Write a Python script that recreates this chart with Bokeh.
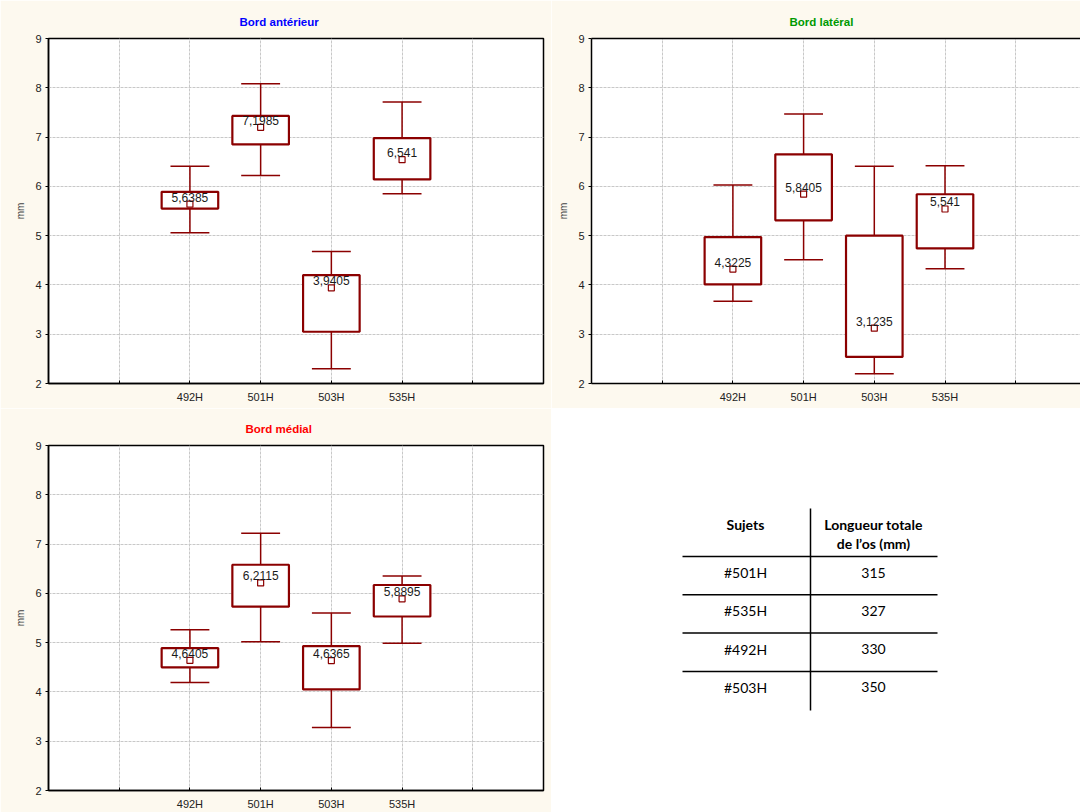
from bokeh.plotting import figure
from bokeh.models import ColumnDataSource, FixedTicker, Range1d, LinearAxis
from bokeh.layouts import column, row
from bokeh.transform import dodge
from bokeh.embed import file_html
from bokeh.resources import INLINE
from bokeh.core.properties import value

# ---------------- data ----------------
categories = ["492H", "501H", "503H", "535H"]

ant_mean = [5.6385, 7.1985, 3.9405, 6.541]
ant_box_hi = [5.89, 7.43, 4.20, 6.98]
ant_box_lo = [5.55, 6.85, 3.05, 6.14]
ant_wh_hi = [6.41, 8.08, 4.68, 7.71]
ant_wh_lo = [5.06, 6.22, 2.30, 5.85]

lat_mean = [4.3225, 5.8405, 3.1235, 5.541]
lat_box_hi = [4.97, 6.65, 5.00, 5.84]
lat_box_lo = [4.01, 5.31, 2.54, 4.74]
lat_wh_hi = [6.03, 7.47, 6.41, 6.42]
lat_wh_lo = [3.67, 4.51, 2.20, 4.33]

med_mean = [4.6405, 6.2115, 4.6365, 5.8895]
med_box_hi = [4.89, 6.58, 4.93, 6.17]
med_box_lo = [4.50, 5.73, 4.05, 5.53]
med_wh_hi = [5.26, 7.22, 5.60, 6.35]
med_wh_lo = [4.19, 5.02, 3.28, 4.99]

y_ticks = [2, 3, 4, 5, 6, 7, 8, 9]

table_header_left = "Sujets"
table_header_right = ["Longueur totale", "de l\u2019os (mm)"]
table_subjects = ["#501H", "#535H", "#492H", "#503H"]
table_lengths = ["315", "327", "330", "350"]

# ---------------- style ----------------
CREAM = "#FDF9EF"
DARKRED = "#8B0000"
GRID = "#c8c8c8"
FONT = "Liberation Sans"


def make_panel(title, tcolor, mean, bhi, blo, whi, wlo, x_end, border_left,
               border_right, border_top, border_bottom, frame_w, frame_h,
               title_offset, clipped=False):
    p = figure(frame_width=frame_w, frame_height=frame_h,
               x_range=Range1d(0, x_end), y_range=Range1d(2, 9),
               output_backend="svg", toolbar_location=None,
               min_border_left=border_left, min_border_right=border_right,
               min_border_top=border_top, min_border_bottom=border_bottom)
    p.border_fill_color = CREAM
    p.background_fill_color = "white"
    p.title.text = title
    p.title.text_color = tcolor
    p.title.text_font = FONT
    p.title.text_font_size = "11.5px"
    p.title.text_font_style = "bold"
    p.title.align = "left"
    p.title.offset = title_offset
    p.title.standoff = 21

    xs = [i + 2 for i in range(len(categories))]
    src = ColumnDataSource(dict(
        x=xs, mean=mean, bhi=bhi, blo=blo, whi=whi, wlo=wlo,
        label=[str(v).replace(".", ",") for v in mean]))

    p.segment(x0="x", y0="wlo", x1="x", y1="whi", source=src,
              line_color=DARKRED, line_width=1.5)
    p.vbar(x="x", top="bhi", bottom="blo", width=0.8, source=src,
           fill_color="white", line_color=DARKRED, line_width=2.2)
    p.segment(x0=dodge("x", -0.275), y0="whi", x1=dodge("x", 0.275), y1="whi",
              source=src, line_color=DARKRED, line_width=1.5)
    p.segment(x0=dodge("x", -0.275), y0="wlo", x1=dodge("x", 0.275), y1="wlo",
              source=src, line_color=DARKRED, line_width=1.5)
    p.scatter(x="x", y="mean", marker="square", size=6, source=src,
              fill_color="white", line_color=DARKRED, line_width=1.2)
    p.text(x="x", y="mean", text="label", source=src, text_align="center",
           text_baseline="alphabetic", y_offset=-7, text_font=value(FONT),
           text_font_size="12px", text_color="#1a1a1a")

    # grid
    p.xgrid.ticker = FixedTicker(ticks=[1, 2, 3, 4, 5, 6])
    p.ygrid.ticker = FixedTicker(ticks=y_ticks)
    for g in (p.xgrid[0], p.ygrid[0]):
        g.grid_line_color = GRID
        g.grid_line_dash = "3 1"
        g.grid_line_width = 1

    # axes
    xa = p.xaxis[0]
    xa.ticker = FixedTicker(ticks=[1, 2, 3, 4, 5, 6])
    overrides = {1: "", 6: ""}
    for i, c in enumerate(categories):
        overrides[i + 2] = c
    xa.major_label_overrides = overrides
    ya = p.yaxis[0]
    ya.ticker = FixedTicker(ticks=y_ticks)
    ya.axis_label = "mm"
    ya.axis_label_text_font_style = "normal"
    ya.axis_label_text_font_size = "10px"
    ya.axis_label_text_font = FONT
    ya.axis_label_standoff = 6
    for a in (xa, ya):
        a.major_label_text_font = FONT
        a.major_label_text_font_size = "11px"
        a.major_label_text_color = "#222222"
        a.minor_tick_line_color = None
        a.axis_line_color = "black"
        a.axis_line_width = 1.5
        a.major_tick_line_color = "black"
    xa.major_tick_in = 3
    xa.major_tick_out = 0
    xa.major_label_standoff = 7
    ya.major_tick_in = 0
    ya.major_tick_out = 3
    ya.major_label_standoff = 4

    if clipped:
        p.outline_line_color = None
        top = LinearAxis(ticker=FixedTicker(ticks=[]), axis_line_color="black",
                         axis_line_width=1.5, major_label_text_font_size="0px",
                         major_tick_line_color=None, minor_tick_line_color=None)
        p.add_layout(top, "above")
    else:
        p.outline_line_color = "black"
        p.outline_line_width = 1.5
    return p


p1 = make_panel("Bord ant\u00e9rieur", "#0000FF", ant_mean, ant_box_hi,
                ant_box_lo, ant_wh_hi, ant_wh_lo, 7, 48, 8, 38, 25, 495, 345,
                191)
p2 = make_panel("Bord lat\u00e9ral", "#009900", lat_mean, lat_box_hi,
                lat_box_lo, lat_wh_hi, lat_wh_lo, 489 / 70.7, 40, 0, 38, 25,
                489, 345, 198, clipped=True)
p3 = make_panel("Bord m\u00e9dial", "#FF0000", med_mean, med_box_hi,
                med_box_lo, med_wh_hi, med_wh_lo, 7, 48, 8, 37, 21, 495, 345,
                197)

# ---------------- table panel ----------------
# frame aligned with the "Bord médial" frame (345 px high, starts 37 px down)
p4 = figure(frame_width=529, frame_height=345, x_range=Range1d(0, 529),
            y_range=Range1d(345, 0), output_backend="svg",
            toolbar_location=None, min_border_left=0, min_border_right=0,
            min_border_top=37, min_border_bottom=21)
p4.axis.visible = False
p4.grid.visible = False
p4.outline_line_color = None
p4.background_fill_color = "white"
p4.border_fill_color = "white"

col1_x, col2_x = 194, 322
row0_y, row_step = 127, 38.3
header_y, header_step = 79, 19
n = len(table_subjects)
row_y = [row0_y + i * row_step for i in range(n)]
line_y = [y - 16 for y in row_y]

p4.segment(x0=[131] * n, y0=line_y, x1=[386] * n, y1=line_y,
           line_color="black", line_width=1.5)
p4.segment(x0=[259], y0=[63], x1=[259], y1=[265], line_color="black",
           line_width=1.5)
hx = [col1_x] + [col2_x] * len(table_header_right)
hy = [header_y] + [header_y + i * header_step
                   for i in range(len(table_header_right))]
p4.text(x=hx, y=hy, text=[table_header_left] + table_header_right,
        text_align="center", text_baseline="middle", text_font=value("Lato"),
        text_font_style="bold", text_font_size="14px", text_color="black")
tsrc = ColumnDataSource(dict(y=row_y, s=table_subjects, l=table_lengths,
                             x1=[col1_x] * n, x2=[col2_x] * n))
p4.text(x="x1", y="y", text="s", source=tsrc, text_align="center",
        text_baseline="middle", text_font=value("Lato"),
        text_font_size="14px", text_color="black")
p4.text(x="x2", y="y", text="l", source=tsrc, text_align="center",
        text_baseline="middle", text_font=value("Lato"),
        text_font_size="14px", text_color="black")

layout = column(row(p1, p2, spacing=0), row(p3, p4, spacing=0), spacing=0)

open("out.html", "w").write(file_html(layout, INLINE))
